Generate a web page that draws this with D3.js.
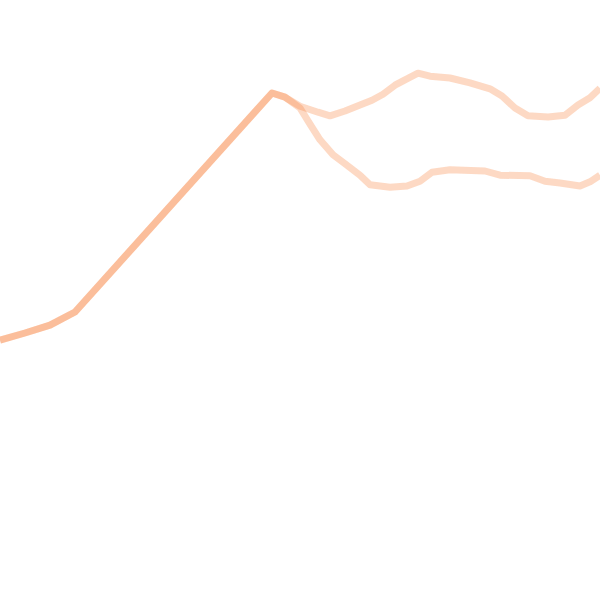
<!DOCTYPE html>
<html>
<head>
<meta charset="utf-8">
<script src="https://cdn.jsdelivr.net/npm/d3@7"></script>
<style>
html,body{margin:0;padding:0;background:#fff;}
svg{display:block;}
</style>
</head>
<body>
<svg id="chart" width="600" height="600"></svg>
<script>
// Series A (upper branch after the peak)
const seriesAX = [0,5,10,15,54.4,57,60,63.6,66,69,72,74.4,76.6,79,81,83.6,86,90,94,98,100.4,103,105.6,109.6,113,115.6,118,120];
const seriesAY = [43.3,44.5,45.8,48.0,84.5,83.8,82.3,81.3,80.7,81.5,82.5,83.3,84.3,85.8,86.7,87.8,87.3,87.0,86.2,85.2,84.0,82.0,80.7,80.5,80.8,82.5,83.7,85.3];
// Series B (lower branch after the peak)
const seriesBX = [0,5,10,15,54.4,57,60,62,64,66.6,69,72,74,78,81.4,84,86.4,90,97,100,106,109,112,116,118,120];
const seriesBY = [43.3,44.5,45.8,48.0,84.5,83.8,82.0,79.3,76.7,74.2,72.7,70.8,69.2,68.8,69.0,69.8,71.3,71.7,71.5,70.8,70.7,69.8,69.5,69.0,69.7,70.8];

const W = 600, H = 600;
const svg = d3.select("#chart");
const x = d3.scaleLinear().domain([0,120]).range([0,W]);
const y = d3.scaleLinear().domain([0,100]).range([H,0]);

const series = [
  seriesAX.map((v,i)=>({x:v,y:seriesAY[i]})),
  seriesBX.map((v,i)=>({x:v,y:seriesBY[i]}))
];

const line = d3.line().x(d=>x(d.x)).y(d=>y(d.y));

svg.selectAll("path.series")
  .data(series)
  .join("path")
  .attr("class","series")
  .attr("d", line)
  .attr("fill","none")
  .attr("stroke","rgb(250,130,60)")
  .attr("stroke-opacity",0.3)
  .attr("stroke-width",7)
  .attr("stroke-linejoin","round")
  .attr("stroke-linecap","butt");
</script>
</body>
</html>
